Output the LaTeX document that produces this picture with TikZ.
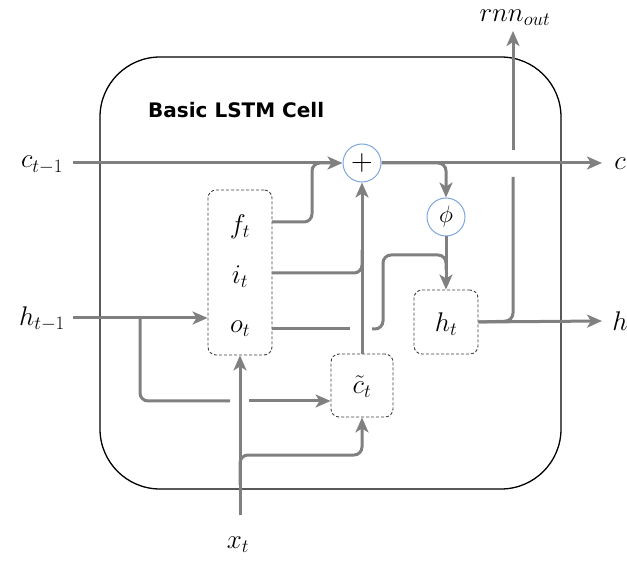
\RequirePackage{fix-cm}
\documentclass[tikz,border=0pt]{standalone}
\usepackage{fontspec}
\newfontfamily\cellfont{DejaVu Sans}
\usetikzlibrary{arrows.meta}
\definecolor{arrowgray}{RGB}{128,128,128}
\definecolor{circblue}{RGB}{126,166,224}
\tikzset{
  conn/.style={draw=arrowgray, line width=3pt, rounded corners=8pt},
  arr/.style={-{Stealth[length=15pt,width=13pt,inset=4pt]}},
  dbox/.style={draw=black!75, dashed, dash pattern=on 3pt off 2pt, line width=0.9pt, rounded corners=8pt, inner sep=0pt},
  opcirc/.style={circle, draw=circblue, fill=white, line width=1pt, minimum size=38pt, inner sep=0pt},
  lbl/.style={font=\fontsize{27}{30}\selectfont, inner sep=0pt}
}
\begin{document}
\begin{tikzpicture}[x=1pt,y=-1pt]
\useasboundingbox (0,0) rectangle (627,561);
% cell frame
\node[draw=black, line width=1.3pt, rounded corners=60pt, minimum width=461pt, minimum height=432pt, inner sep=0pt] (cell) at (330.5,273) {};
\node[anchor=west, font=\cellfont\bfseries\fontsize{20}{24}\selectfont, inner sep=0pt] (title) at (148,110) {Basic LSTM Cell};
% nodes
\node[dbox, minimum width=64pt, minimum height=165pt] (gates) at (240,272.5) {};
\node[lbl] (ft) at (240,227) {$f_t$};
\node[lbl] (it) at (240,277) {$i_t$};
\node[lbl] (ot) at (240,329) {$o_t$};
\node[dbox, minimum width=64pt, minimum height=64pt] (ht) at (446,322) {};
\node[lbl] (htl) at (446,324) {$h_t$};
\node[dbox, minimum width=62pt, minimum height=63pt] (ct) at (362,385.5) {};
\node[lbl] (ctl) at (362,387) {$\tilde{c}_t$};
\node[opcirc] (plus) at (362,163) {\fontsize{30}{32}\selectfont$+$};
\node[opcirc] (phi) at (446,217) {\fontsize{24}{26}\selectfont$\phi$};
% outer labels
\node[lbl] (cin) at (42,165) {$c_{t-1}$};
\node[lbl] (hin) at (42,319) {$h_{t-1}$};
\node[lbl] (xin) at (238,545) {$x_t$};
\node[lbl] (rnn) at (515,18) {$rnn_{out}$};
\node[lbl] (cout) at (620,164) {$c$};
\node[lbl] (hout) at (620,321) {$h$};
% coordinates
\coordinate (cstart) at (73,163);
\coordinate (hstart) at (73,318);
\coordinate (xstart) at (240,515);
\coordinate (cend) at (602,163);
\coordinate (hend) at (602,321);
\coordinate (rnnend) at (513,31);
% connectors
\draw[conn, arr] (cstart) -- (plus.west);
\draw[conn] (272,222) -- (312,222) -- (312,163) -- (334,163);
\draw[conn] (272,273) -- (362,273) -- (362,250);
\draw[conn, arr] (ct.north) -- (plus.south);
\draw[conn] (272,329) -- (350,329);
\draw[conn] (372,329) -- (383,329) -- (383,255) -- (446,255) -- (446,270);
\draw[conn, arr] (plus.east) -- (cend);
\draw[conn, arr] (plus.east) -- (446,163) -- (phi.north);
\draw[conn, arr] (phi.south) -- (ht.north);
\draw[conn, arr] (ht.east) -- (hend);
\draw[conn] (ht.east) -- (513,321) -- (513,177);
\draw[conn, arr] (513,150) -- (rnnend);
\draw[conn, arr] (hstart) -- (gates.west |- hstart);
\draw[conn] (140,318) -- (140,401) -- (230,401);
\draw[conn, arr] (249,401) -- (ct.west |- 0,401);
\draw[conn, arr] (xstart) -- (gates.south);
\draw[conn, arr] (240,485) -- (240,455) -- (362,455) -- (ct.south);
\end{tikzpicture}
\end{document}
